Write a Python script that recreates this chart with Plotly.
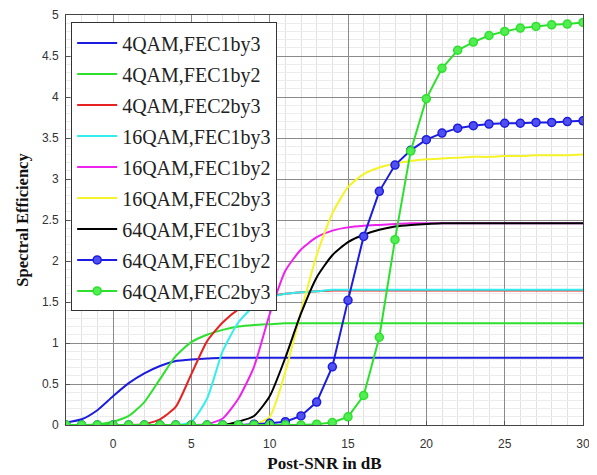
import plotly.graph_objects as go

snr_db = [-3, -2, -1, 0, 1, 2, 3, 4, 5, 6, 7, 8, 9, 10, 11, 12, 13, 14, 15, 16,
          17, 18, 19, 20, 21, 22, 23, 24, 25, 26, 27, 28, 29, 30]

qam4_fec1by3 = [0.03, 0.07, 0.18, 0.35, 0.51, 0.63, 0.72, 0.78, 0.80, 0.81] + [0.82] * 24
qam4_fec1by2 = [0.00, 0.00, 0.01, 0.04, 0.11, 0.28, 0.56, 0.84, 1.01, 1.10, 1.16, 1.20,
                1.22, 1.23] + [1.24] * 20
qam4_fec2by3 = [0, 0, 0, 0, 0, 0.01, 0.07, 0.22, 0.62, 1.02, 1.25, 1.41, 1.51, 1.57,
                1.60, 1.62, 1.63] + [1.64] * 17
qam16_fec1by3 = [0, 0, 0, 0, 0, 0, 0, 0, 0.04, 0.32, 0.90, 1.25, 1.45, 1.55, 1.60,
                 1.62, 1.63] + [1.65] * 17
qam16_fec1by2 = [0, 0, 0, 0, 0, 0, 0, 0, 0, 0.01, 0.08, 0.32, 0.71, 1.35, 1.88, 2.14,
                 2.29, 2.37, 2.41, 2.43, 2.44, 2.45] + [2.46] * 12
qam16_fec2by3 = [0] * 12 + [0.01, 0.10, 0.65, 1.38, 2.07, 2.58, 2.90, 3.06, 3.14, 3.19,
                            3.22, 3.24, 3.25, 3.26, 3.27, 3.27, 3.28, 3.28, 3.29, 3.29,
                            3.29, 3.30]
qam64_fec1by3 = [0] * 11 + [0.04, 0.11, 0.35, 0.82, 1.36, 1.80, 2.07, 2.23, 2.32, 2.38,
                            2.42, 2.44, 2.45] + [2.46] * 10
qam64_fec1by2 = [0] * 12 + [0.01, 0.02, 0.04, 0.11, 0.28, 0.71, 1.52, 2.30, 2.85, 3.17,
                            3.35, 3.48, 3.56, 3.62, 3.65, 3.67, 3.68, 3.68, 3.69, 3.69,
                            3.70, 3.71]
qam64_fec2by3 = [0] * 16 + [0.01, 0.03, 0.10, 0.36, 1.07, 2.26, 3.34, 3.98, 4.35, 4.57,
                            4.67, 4.75, 4.80, 4.84, 4.86, 4.88, 4.89, 4.91]

x_ticks = [0, 5, 10, 15, 20, 25, 30]
y_ticks = [0, 0.5, 1, 1.5, 2, 2.5, 3, 3.5, 4, 4.5, 5]
y_tick_text = ["0", "0.5", "1", "1.5", "2", "2.5", "3", "3.5", "4", "4.5", "5"]

series = [
    ("4QAM,FEC1by3", qam4_fec1by3, "#1c1ce0", None),
    ("4QAM,FEC1by2", qam4_fec1by2, "#2ee02e", None),
    ("4QAM,FEC2by3", qam4_fec2by3, "#e62222", None),
    ("16QAM,FEC1by3", qam16_fec1by3, "#33eeee", None),
    ("16QAM,FEC1by2", qam16_fec1by2, "#ee22ee", None),
    ("16QAM,FEC2by3", qam16_fec2by3, "#f4f428", None),
    ("64QAM,FEC1by3", qam64_fec1by3, "#000000", None),
    ("64QAM,FEC1by2", qam64_fec1by2, "#1c1ce0", "#5050f0"),
    ("64QAM,FEC2by3", qam64_fec2by3, "#2ee02e", "#50ee50"),
]

fig = go.Figure()
for i, (name, ys, color, fill) in enumerate(series):
    if fill:
        fig.add_trace(go.Scatter(
            x=snr_db, y=ys, name=name, mode="lines+markers",
            line=dict(color=color, width=2),
            marker=dict(symbol="circle", size=8, color=fill,
                        line=dict(color=color, width=1.5)),
            legendgroup=f"g{i}",
        ))
    else:
        fig.add_trace(go.Scatter(
            x=snr_db, y=ys, name=name, mode="lines",
            line=dict(color=color, width=2, shape="spline", smoothing=0.6),
            legendgroup=f"g{i}",
        ))

serif = "Liberation Serif, Times New Roman, serif"
sans = "Liberation Sans, Arial, sans-serif"

# page body has an 8px default margin, so the figure is 8px smaller
fig.update_layout(
    width=589, height=467,
    margin=dict(l=58, r=14, t=7, b=50, autoexpand=False),
    paper_bgcolor="white",
    plot_bgcolor="white",
    showlegend=True,
    legend=dict(
        x=0.01, y=0.982, xanchor="left", yanchor="top",
        bgcolor="white", bordercolor="#333333", borderwidth=1,
        font=dict(family=serif, size=20, color="#222222"),
        traceorder="grouped", tracegroupgap=2,
        itemwidth=40,
    ),
    xaxis=dict(
        range=[-3, 30], tickvals=x_ticks, automargin=False,
        showgrid=True, gridcolor="#8a8a8a", gridwidth=1,
        minor=dict(dtick=1, showgrid=True, gridcolor="#e2e2e2", gridwidth=1,
                   ticks=""),
        ticks="inside", ticklen=4, tickcolor="#555555",
        showline=True, linecolor="#444444", linewidth=1, mirror=True,
        zeroline=False, ticklabelstandoff=8,
        tickfont=dict(family=sans, size=12, color="#333333"),
        title=dict(text="<b>Post-SNR in dB</b>",
                   font=dict(family=serif, size=17, color="#111111"),
                   standoff=6),
    ),
    yaxis=dict(
        range=[0, 5], tickvals=y_ticks, ticktext=y_tick_text, automargin=False,
        showgrid=True, gridcolor="#8a8a8a", gridwidth=1,
        minor=dict(dtick=0.1, showgrid=True, gridcolor="#ececec", gridwidth=1,
                   ticks=""),
        ticks="inside", ticklen=4, tickcolor="#555555",
        showline=True, linecolor="#444444", linewidth=1, mirror=True,
        zeroline=False, ticklabelstandoff=4,
        tickfont=dict(family=sans, size=12, color="#333333"),
        title=dict(text="<b>Spectral Efficiency</b>",
                   font=dict(family=serif, size=16.5, color="#111111"),
                   standoff=9),
    ),
)

fig.write_html("out.html")
